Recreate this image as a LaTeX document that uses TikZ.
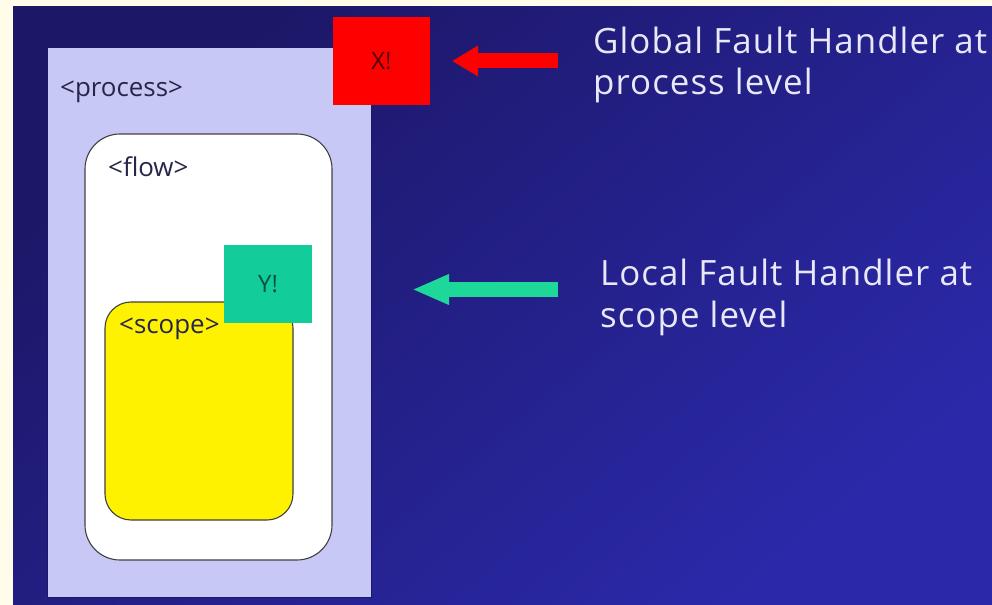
\documentclass[tikz,border=0pt]{standalone}
\usepackage{fontspec}
\setmainfont{Open Sans}
\newfontfamily\captionfont[LetterSpace=3]{Open Sans}
\usetikzlibrary{arrows.meta}

\definecolor{paper}{HTML}{FFFDE9}
\definecolor{navytop}{HTML}{1C1766}
\definecolor{navybot}{HTML}{2B29AA}
\definecolor{lavender}{HTML}{C8C8F6}
\definecolor{tealbox}{HTML}{12CC99}
\definecolor{tealarrow}{HTML}{1ED89A}
\definecolor{inktext}{HTML}{26264A}
\definecolor{captext}{HTML}{E8E8F8}

\tikzset{
  block/.style={inner sep=0pt, outer sep=0pt},
  levelbox/.style={block, draw=black!75, line width=1.1bp, fill=white},
  handler/.style={block},
  tag/.style={inner sep=0pt, anchor=base west, text=inktext, font=\fontsize{26}{30}\selectfont},
  handlerlabel/.style={inner sep=0pt, text=inktext, font=\fontsize{24}{28}\selectfont},
  caption/.style={inner sep=0pt, anchor=base west, text=captext, font=\captionfont\fontsize{35}{41}\selectfont},
  pointer/.style={line width=15bp},
}

\begin{document}
\begin{tikzpicture}[x=1bp,y=-1bp]
  \useasboundingbox (0,0) rectangle (992,605);
  % page and slide background
  \fill[paper] (0,0) rectangle (992,605);
  \shade[top color=navytop, bottom color=navybot, shading angle=40] (13,7) rectangle (992,605);

  % process container and its global handler
  \node[block, fill=lavender, draw=navytop, line width=1bp,
        minimum width=323bp, minimum height=549bp] (proc) at (209.5,322.5) {};
  \node[handler, fill=red, minimum width=97bp, minimum height=88bp] (xh) at (381.5,61) {};
  \node[handlerlabel, text=red!30!black] (xlbl) at (xh.center) {X!};
  \node[tag] (proclbl) at (60,97) {<process>};

  % flow container
  \node[levelbox, rounded corners=35bp, minimum width=247bp, minimum height=426bp] (flow) at (208.5,347) {};
  \node[tag] (flowlbl) at (108,177) {<flow>};

  % scope container and its local handler
  \node[levelbox, fill=yellow, rounded corners=26bp, minimum width=188bp, minimum height=218bp] (scope) at (199,411) {};
  \node[tag] (scopelbl) at (119,333) {<scope>};
  \node[handler, fill=tealbox, minimum width=88bp, minimum height=78bp] (yh) at (268,284) {};
  \node[handlerlabel, text=tealbox!40!black] (ylbl) at (yh.center) {Y!};

  % captions
  \node[caption] (glob1) at (593,54) {Global Fault Handler at};
  \node[caption] (glob2) at (593,95) {process level};
  \node[caption] (loc1) at (600,286) {Local Fault Handler at};
  \node[caption] (loc2) at (600,327) {scope level};

  % arrows pointing from captions to handlers
  \coordinate (gtail) at (558,61);
  \coordinate (ghead) at (452,61);
  \coordinate (ltail) at (558,289.5);
  \coordinate (lhead) at (412,289.5);
  \draw[pointer, red, -{Triangle[length=26bp, width=29bp]}] (gtail) -- (ghead);
  \draw[pointer, tealarrow, -{Triangle[length=37bp, width=28bp]}] (ltail) -- (lhead);
\end{tikzpicture}
\end{document}
